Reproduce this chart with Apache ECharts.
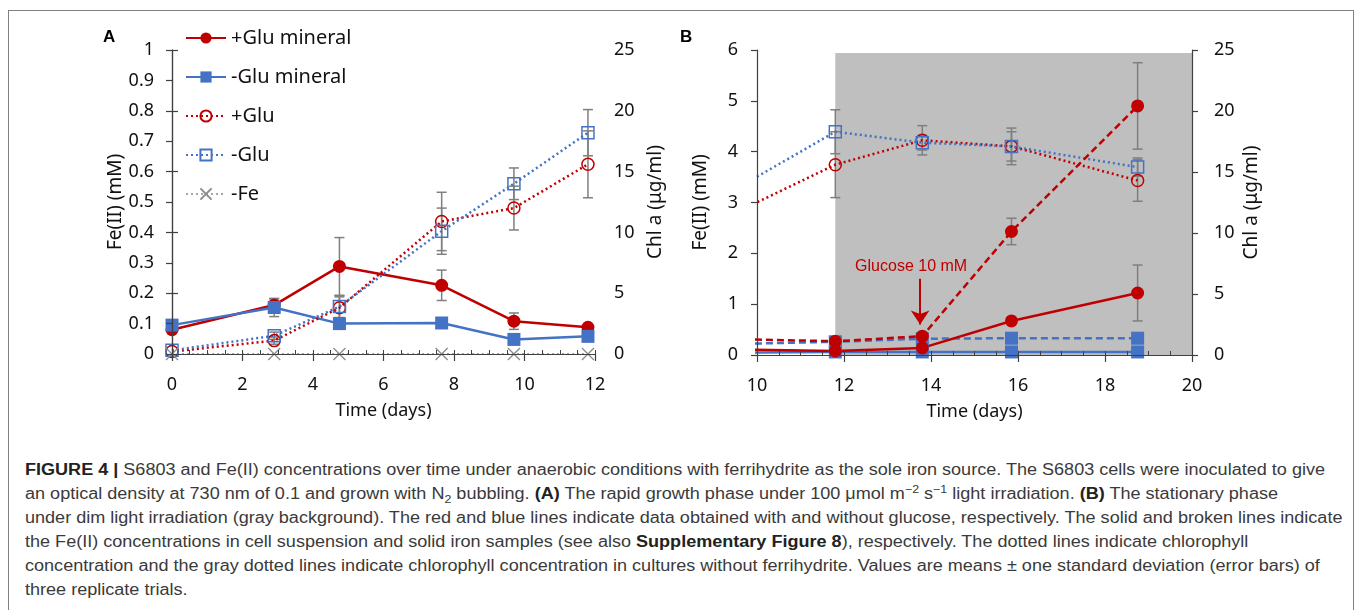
<!DOCTYPE html>
<html><head><meta charset="utf-8">
<script src="https://cdn.jsdelivr.net/npm/echarts@6/dist/echarts.min.js"></script>
<style>
html,body{margin:0;padding:0;background:#fff;width:1357px;height:610px;overflow:hidden}
#frame{position:absolute;left:8px;top:10px;width:1346px;height:660px;border:1.5px solid #808080;box-sizing:border-box}
#chart{position:absolute;left:0;top:0;width:1357px;height:440px}
#caption{position:absolute;left:25px;top:458px;font-family:"Liberation Sans Narrow","Liberation Sans",Arial,sans-serif;font-size:16px;line-height:24px;color:#3a3a3a;transform-origin:0 0;white-space:nowrap}
#caption b{color:#222}
#caption sub,#caption sup{font-size:11px;line-height:0}
</style></head>
<body>
<div id="frame"></div>
<div id="chart"></div>
<div id="caption">
<div><span id="l1"><b>FIGURE 4 |</b> S6803 and Fe(II) concentrations over time under anaerobic conditions with ferrihydrite as the sole iron source. The S6803 cells were inoculated to give</span></div>
<div>an optical density at 730 nm of 0.1 and grown with N<sub>2</sub> bubbling. <b>(A)</b> The rapid growth phase under 100 μmol m<sup>−2</sup> s<sup>−1</sup> light irradiation. <b>(B)</b> The stationary phase</div>
<div>under dim light irradiation (gray background). The red and blue lines indicate data obtained with and without glucose, respectively. The solid and broken lines indicate</div>
<div>the Fe(II) concentrations in cell suspension and solid iron samples (see also <b>Supplementary Figure 8</b>), respectively. The dotted lines indicate chlorophyll</div>
<div>concentration and the gray dotted lines indicate chlorophyll concentration in cultures without ferrihydrite. Values are means ± one standard deviation (error bars) of</div>
<div>three replicate trials.</div>
</div>
<script>
// ---------- Panel A data ----------
const daysA = [0, 2.9, 4.75, 7.65, 9.7, 11.8];
const gluMineralA = [0.08, 0.161, 0.288, 0.226, 0.108, 0.088];
const gluMineralErrA = [0, 0.02, 0.095, 0.05, 0.027, 0];
const noGluMineralA = [0.095, 0.153, 0.1, 0.102, 0.048, 0.058];
const noGluMineralErrA = [0, 0.03, 0, 0, 0, 0];
const gluChlA = [0.2, 1.1, 3.8, 10.9, 12.0, 15.6];
const gluChlErrA = [0, 0.3, 0.9, 2.4, 1.8, 2.75];
const noGluChlA = [0.3, 1.5, 3.9, 10.1, 14.0, 18.2];
const noGluChlErrA = [0, 0.3, 0.9, 1.9, 1.3, 1.9];
const noFeChlA = [0, 0, 0, 0, 0, 0];
// ---------- Panel B data ----------
const daysB = [9.7, 11.8, 13.8, 15.85, 18.75];
const gluMineralB = [0.108, 0.08, 0.14, 0.67, 1.22];
const gluMineralErrB = [0, 0, 0, 0, 0.55];
const noGluMineralB = [0.05, 0.06, 0.06, 0.06, 0.06];
const gluSolidB = [0.31, 0.27, 0.37, 2.43, 4.9];
const gluSolidErrB = [0, 0, 0, 0.26, 0.85];
const noGluSolidB = [0.22, 0.26, 0.32, 0.33, 0.33];
const gluChlB = [12.0, 15.6, 17.6, 17.1, 14.3];
const gluChlErrB = [0, 2.7, 1.2, 1.5, 1.7];
const noGluChlB = [14.0, 18.3, 17.4, 17.1, 15.4];
const noGluChlErrB = [0, 1.8, 0.6, 1.2, 0.75];
// ---------- labels ----------
const legendNames = ['+Glu mineral', '-Glu mineral', '+Glu', '-Glu', '-Fe'];
const feAxisName = 'Fe(II) (mM)';
const chlAxisName = 'Chl a (μg/ml)';
const timeAxisName = 'Time (days)';
const glucoseNote = 'Glucose 10 mM';
const shadedDays = [11.8, 20];

const RED = '#c00000', BLUE = '#4472c4', GRAYL = '#a6a6a6', ERR = '#7f7f7f', AX = '#404040';
const FONT = '"Noto Sans", sans-serif';
const XPATH = 'path://M0,0L10,10M10,0L0,10';

const pairs = (xs, ys) => xs.map((x, i) => [x, ys[i]]);
function errData(xs, ys, es) {
  const out = [];
  xs.forEach((x, i) => { if (es[i] > 0) out.push([x, ys[i], es[i]]); });
  return out;
}
function errSeries(xi, yi, xs, ys, es) {
  return {
    type: 'custom', xAxisIndex: xi, yAxisIndex: yi, z: 3, clip: true, silent: true,
    data: errData(xs, ys, es),
    renderItem: (params, api) => {
      const x = api.value(0), y = api.value(1), e = api.value(2);
      const t = api.coord([x, y + e]), b = api.coord([x, y - e]);
      const w = 5, st = { stroke: ERR, lineWidth: 1.5 };
      return { type: 'group', children: [
        { type: 'line', shape: { x1: t[0], y1: t[1], x2: b[0], y2: b[1] }, style: st },
        { type: 'line', shape: { x1: t[0] - w, y1: t[1], x2: t[0] + w, y2: t[1] }, style: st },
        { type: 'line', shape: { x1: b[0] - w, y1: b[1], x2: b[0] + w, y2: b[1] }, style: st }
      ]};
    }
  };
}
function filledLine(name, xi, yi, data, color, symbol, type) {
  return { name, type: 'line', xAxisIndex: xi, yAxisIndex: yi, data, z: 4,
    symbol, symbolSize: 13, clip: true,
    lineStyle: { color, width: 2.5, type },
    itemStyle: { color, borderColor: color, borderWidth: 0 } };
}
function hollowLine(name, xi, yi, data, color, symbol) {
  return { name, type: 'line', xAxisIndex: xi, yAxisIndex: yi, data, z: 4,
    symbol, symbolSize: 12, clip: true,
    lineStyle: { color, width: 2.5, type: [2, 3] },
    itemStyle: { color: 'rgba(0,0,0,0)', borderColor: color, borderWidth: 1.5 } };
}
const labelStyle = { fontFamily: FONT, fontSize: 18, color: '#111' };
function yAx(grid, pos, max, interval, name, gap, margin, z) {
  return { type: 'value', gridIndex: grid, position: pos, min: 0, max, interval, z,
    name, nameLocation: 'middle', nameGap: gap, nameRotate: 90,
    nameTextStyle: { fontFamily: FONT, fontSize: 19, color: '#111' },
    axisLine: { show: true, lineStyle: { color: AX, width: 1.2 } },
    axisTick: { show: true, length: 6, lineStyle: { color: AX, width: 1.2 } },
    axisLabel: Object.assign({ margin }, labelStyle),
    splitLine: { show: false } };
}
function xAx(grid, min, max, z) {
  return { type: 'value', gridIndex: grid, position: 'bottom', min, max, interval: 2, z,
    name: timeAxisName, nameLocation: 'middle', nameGap: 48,
    nameTextStyle: { fontFamily: FONT, fontSize: 18, color: '#111' },
    axisLine: { show: true, onZero: false, lineStyle: { color: AX, width: 1.2 } },
    axisTick: { show: true, length: 7, lineStyle: { color: AX, width: 1.2 } },
    axisLabel: Object.assign({ margin: 22 }, labelStyle),
    splitLine: { show: false } };
}
function xMinor(grid, min, max, z) {
  return { type: 'value', gridIndex: grid, position: 'bottom', min, max, interval: 0.5, z,
    axisLine: { show: false, onZero: false },
    axisTick: { show: true, inside: true, length: 4, lineStyle: { color: AX, width: 1 } },
    axisLabel: { show: false }, splitLine: { show: false } };
}

const chart = echarts.init(document.getElementById('chart'), null, { renderer: 'canvas' });
chart.setOption({
  animation: false,
  grid: [
    { left: 172, top: 50, width: 423, height: 304 },
    { left: 757, top: 50, width: 435, height: 305 }
  ],
  xAxis: [ xAx(0, 0, 12, 5), xMinor(0, 0, 12, 5), xAx(1, 10, 20, 10), xMinor(1, 10, 20, 10) ],
  yAxis: [
    yAx(0, 'left', 1, 0.1, feAxisName, 44, 18, 5),
    yAx(0, 'right', 25, 5, chlAxisName, 51, 19, 5),
    yAx(1, 'left', 6, 1, feAxisName, 47, 19, 10),
    yAx(1, 'right', 25, 5, chlAxisName, 50, 22, 10)
  ],
  legend: {
    data: legendNames, orient: 'vertical', left: 180, top: 23,
    itemWidth: 40, itemHeight: 14, itemGap: 19,
    textStyle: { fontFamily: FONT, fontSize: 20, color: '#111' }
  },
  graphic: [
    { type: 'text', left: 103, top: 29, style: { text: 'A', font: 'bold 17px "Liberation Sans"', fill: '#000' } },
    { type: 'text', left: 680, top: 29, style: { text: 'B', font: 'bold 17px "Liberation Sans"', fill: '#000' } }
  ],
  series: [
    // background shading panel B
    { type: 'line', xAxisIndex: 2, yAxisIndex: 2, data: [], z: 1, silent: true,
      markArea: { silent: true, itemStyle: { color: '#bfbfbf' },
        data: [[{ xAxis: shadedDays[0], yAxis: 0 }, { xAxis: shadedDays[1], yAxis: 5.94 }]] } },
    // ---- Panel A ----
    errSeries(0, 0, daysA, gluMineralA, gluMineralErrA),
    errSeries(0, 0, daysA, noGluMineralA, noGluMineralErrA),
    errSeries(0, 1, daysA, gluChlA, gluChlErrA),
    errSeries(0, 1, daysA, noGluChlA, noGluChlErrA),
    filledLine('+Glu mineral', 0, 0, pairs(daysA, gluMineralA), RED, 'circle', 'solid'),
    filledLine('-Glu mineral', 0, 0, pairs(daysA, noGluMineralA), BLUE, 'rect', 'solid'),
    hollowLine('+Glu', 0, 1, pairs(daysA, gluChlA), RED, 'circle'),
    hollowLine('-Glu', 0, 1, pairs(daysA, noGluChlA), BLUE, 'rect'),
    { name: '-Fe', type: 'line', xAxisIndex: 0, yAxisIndex: 1, data: pairs(daysA, noFeChlA), z: 4,
      symbol: XPATH, symbolSize: 12,
      lineStyle: { color: GRAYL, width: 2, type: [2, 3] },
      itemStyle: { color: 'none', borderColor: '#8c8c8c', borderWidth: 1.3 } },
    // ---- Panel B ----
    errSeries(2, 2, daysB, gluMineralB, gluMineralErrB),
    errSeries(2, 2, daysB, gluSolidB, gluSolidErrB),
    errSeries(2, 3, daysB, gluChlB, gluChlErrB),
    errSeries(2, 3, daysB, noGluChlB, noGluChlErrB),
    hollowLine('+Glu', 2, 3, pairs(daysB, gluChlB), RED, 'circle'),
    hollowLine('-Glu', 2, 3, pairs(daysB, noGluChlB), BLUE, 'rect'),
    filledLine('-Glu mineral', 2, 2, pairs(daysB, noGluMineralB), BLUE, 'rect', 'solid'),
    filledLine('-Glu solid iron', 2, 2, pairs(daysB, noGluSolidB), BLUE, 'rect', [7, 4]),
    filledLine('+Glu mineral', 2, 2, pairs(daysB, gluMineralB), RED, 'circle', 'solid'),
    Object.assign(filledLine('+Glu solid iron', 2, 2, pairs(daysB, gluSolidB), RED, 'circle', [7, 4]), {
      markLine: { silent: true, symbol: ['none', 'arrow'], symbolSize: 14,
        lineStyle: { color: RED, width: 2, type: 'solid' },
        label: { show: true, position: 'start', formatter: glucoseNote, distance: 4,
          color: RED, fontSize: 16, fontFamily: '"Liberation Sans", Arial, sans-serif', padding: [0, 18, 0, 0] },
        data: [[{ coord: [13.75, 1.5] }, { coord: [13.75, 0.6] }]] } })
  ]
});

// fit caption to reference width
const capEl = document.getElementById('caption');
const w1 = document.getElementById('l1').getBoundingClientRect().width;
capEl.style.transform = 'scaleX(' + (1300 / w1) + ')';
</script>
</body></html>
